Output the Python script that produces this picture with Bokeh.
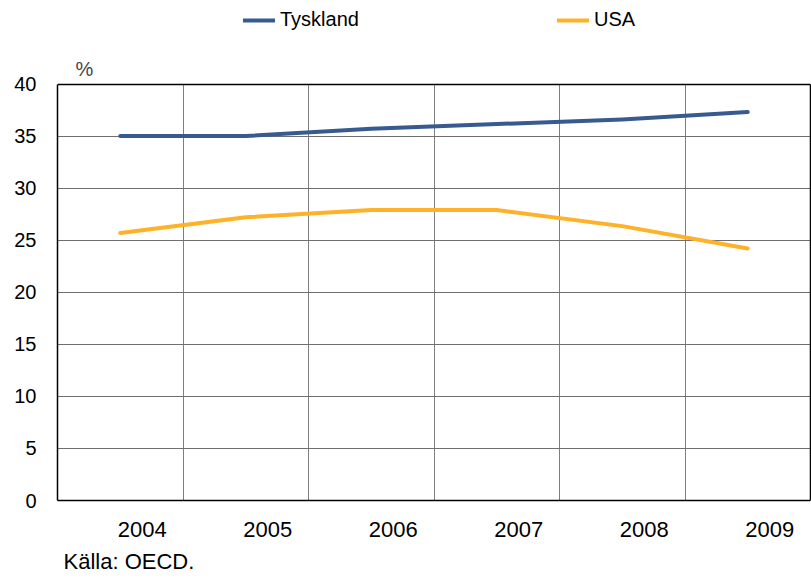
from bokeh.plotting import figure
from bokeh.models import FixedTicker, Range1d, Legend, LegendItem, Label, Grid, Title
from bokeh.embed import file_html
from bokeh.resources import INLINE

years = ["2004", "2005", "2006", "2007", "2008", "2009"]
tyskland = [35.0, 35.0, 35.7, 36.15, 36.6, 37.3]
usa = [25.7, 27.2, 27.9, 27.9, 26.35, 24.2]
y_ticks = [0, 5, 10, 15, 20, 25, 30, 35, 40]
y_max = 40

FONT = "Liberation Sans"
BLUE = "#375b8e"
ORANGE = "#ffb128"

n = len(years)
x = [i + 0.5 for i in range(n)]

W, H = 811, 580
FL, FB = 57, 500            # frame left / bottom in page pixels
top_px = 83.5               # where y_max sits
frame_w = W - FL
y_top = y_max * FB / (FB - top_px)
x_end = n * frame_w / (frame_w - 1)

p = figure(width=W, height=H, output_backend="svg", toolbar_location=None,
           x_range=Range1d(0, x_end), y_range=Range1d(0, y_top),
           min_border_left=FL, min_border_right=0, min_border_top=0,
           min_border_bottom=H - FB)
p.title = None
p.background_fill_color = "white"
p.border_fill_color = "white"
p.outline_line_color = None

r1 = p.line(x, tyskland, line_color=BLUE, line_width=4, line_cap="round", line_join="round")
r2 = p.line(x, usa, line_color=ORANGE, line_width=4, line_cap="round", line_join="round")

# axes
label_off = 0.175
xt = [i + 0.5 + label_off for i in range(n)]
p.xaxis.ticker = FixedTicker(ticks=xt)
p.xaxis.major_label_overrides = {t: yr for t, yr in zip(xt, years)}
p.xaxis.bounds = (0, n)
p.yaxis.ticker = FixedTicker(ticks=y_ticks)
p.yaxis.bounds = (0, y_max)
for ax in (p.xaxis, p.yaxis):
    ax.axis_line_color = "black"
    ax.axis_line_width = 1.5
    ax.major_tick_line_color = None
    ax.minor_tick_line_color = None
    ax.major_tick_out = 0
    ax.major_tick_in = 0
    ax.major_label_text_font = FONT
    ax.major_label_text_color = "black"
p.xaxis.major_label_text_font_size = "22px"
p.yaxis.major_label_text_font_size = "20px"
p.xaxis.major_label_standoff = 21
p.yaxis.major_label_standoff = 21

p.xgrid.ticker = FixedTicker(ticks=list(range(1, n)))
p.xgrid.cross_bounds = (0, y_max)
p.ygrid.ticker = FixedTicker(ticks=y_ticks[1:-1])
p.ygrid.cross_bounds = (0, n)
p.xgrid.grid_line_color = "#7f7f7f"
p.ygrid.grid_line_color = "#6f6f6f"
p.xgrid.grid_line_width = 1
p.ygrid.grid_line_width = 1

# box edges at the top and right
p.add_layout(Grid(dimension=0, ticker=FixedTicker(ticks=[n]), cross_bounds=(0, y_max),
                  grid_line_color="black", grid_line_width=1.5))
p.add_layout(Grid(dimension=1, ticker=FixedTicker(ticks=[y_max]), cross_bounds=(0, n),
                  grid_line_color="black", grid_line_width=1.5))

legend = Legend(items=[LegendItem(label="Tyskland", renderers=[r1]),
                       LegendItem(label="USA", renderers=[r2])],
                orientation="horizontal", location=(186, 469),
                label_text_font=FONT, label_text_font_size="20px",
                label_text_color="black",
                glyph_width=32, glyph_height=20, label_standoff=5, spacing=198,
                border_line_color=None, background_fill_alpha=0,
                padding=0, margin=0)
p.add_layout(legend)

p.add_layout(Label(x=0, y=y_max, x_offset=18, y_offset=4, text="%",
                   text_font=FONT, text_font_size="20px", text_baseline="bottom"))

p.add_layout(Title(text="Källa: OECD.", align="left", offset=6, standoff=14,
                   text_font=FONT, text_font_size="22px", text_font_style="normal",
                   text_color="black"), "below")

open("out.html", "w").write(file_html(p, INLINE))
